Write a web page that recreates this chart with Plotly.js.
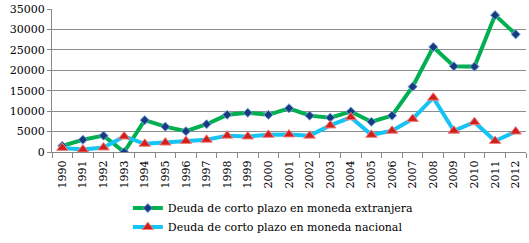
<!DOCTYPE html>
<html>
<head>
<meta charset="utf-8">
<script src="https://cdn.plot.ly/plotly-3.0.1.min.js"></script>
<style>html,body{margin:0;padding:0;background:#fff;}#chart{width:529px;height:243px;}</style>
</head>
<body>
<div id="chart"></div>
<script>
const years = ["1990","1991","1992","1993","1994","1995","1996","1997","1998","1999","2000","2001","2002","2003","2004","2005","2006","2007","2008","2009","2010","2011","2012"];
const extranjera = [1500,3000,4000,0,7800,6200,5100,6800,9100,9600,9100,10700,8900,8400,9900,7400,8900,16000,25700,21000,20900,33500,28800];
const nacional = [1000,600,1100,3800,2000,2300,2700,3000,4000,3800,4200,4300,4000,6500,8500,4200,5200,8100,13300,5200,7300,2700,5000];
const seriesNames = ["Deuda de corto plazo en moneda extranjera","Deuda de corto plazo en moneda nacional"];
const yTicks = [0,5000,10000,15000,20000,25000,30000,35000];

const FONT = "'DejaVu Serif', serif";

const traces = [
  {x: years, y: extranjera, name: seriesNames[0], type: "scatter", mode: "lines+markers",
   line: {color: "#00b050", width: 4},
   marker: {symbol: "diamond", size: 7, color: "#1a3a80", line: {color: "#6fa8e0", width: 1}}},
  {x: years, y: nacional, name: seriesNames[1], type: "scatter", mode: "lines+markers",
   line: {color: "#14c4f5", width: 4},
   marker: {symbol: "triangle-up", size: 10, color: "#d0201c", line: {color: "#f08080", width: 1}}}
];

const layout = {
  width: 529, height: 243,
  margin: {l: 52, r: 3, t: 9, b: 90},
  paper_bgcolor: "#fff", plot_bgcolor: "#fff",
  font: {family: FONT, size: 11, color: "#000"},
  showlegend: true,
  legend: {x: 0.16, xanchor: "left", y: -0.615, yanchor: "bottom", orientation: "v",
    font: {family: FONT, size: 11, color: "#000"},
    tracegroupgap: 0, itemwidth: 30, bgcolor: "rgba(0,0,0,0)"},
  xaxis: {type: "category", tickangle: -90, tickson: "boundaries", ticks: "outside", ticklen: 5,
    tickcolor: "#888", showline: true, linecolor: "#888", linewidth: 1, showgrid: false, automargin: false,
    ticklabelstandoff: 3,
    tickfont: {family: FONT, size: 11}, range: [-0.5, 22.5], fixedrange: true},
  yaxis: {range: [0, 35000], tickvals: yTicks, ticktext: yTicks.map(String), ticks: "outside", ticklen: 4,
    tickcolor: "#888", showline: true, linecolor: "#888", linewidth: 1, showgrid: true, automargin: false,
    gridcolor: "#8c8c8c", gridwidth: 1, zeroline: false,
    tickfont: {family: FONT, size: 11}}
};

Plotly.newPlot("chart", traces, layout, {staticPlot: true, displayModeBar: false});
</script>
</body>
</html>
